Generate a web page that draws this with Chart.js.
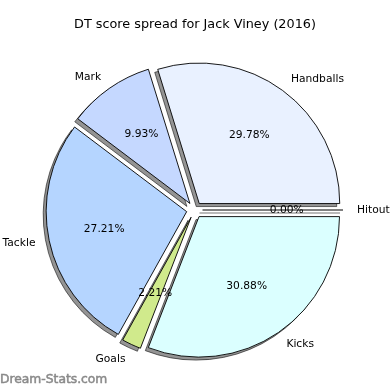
<!DOCTYPE html>
<html lang="en">
<head>
    <meta charset="UTF-8">
    <title>DT score spread for Jack Viney (2016)</title>
    <script src="https://cdn.jsdelivr.net/npm/chart.js"></script>
    <style>
        html, body { margin: 0; padding: 0; background: #ffffff; }
        #wrap { width: 390px; height: 390px; position: relative; }
    </style>
</head>
<body>
    <div id="wrap"><canvas id="pie-chart" width="390" height="390"></canvas></div>
    <script>
        // slices in drawing order (clockwise from 3 o'clock)
        const categories = ['Hitout', 'Kicks', 'Goals', 'Tackle', 'Mark', 'Handballs'];
        const percentages = [0.00, 30.88, 2.21, 27.21, 9.93, 29.78];
        const sliceColors = ['#f2f2f2', '#dbffff', '#d0ea8c', '#b5d5ff', '#c5d8ff', '#e9f1ff'];
        const chartTitle = 'DT score spread for Jack Viney (2016)';
        const watermark = 'Dream-Stats.com';

        const EXPLODE = 8;        // px each slice is pushed out
        const SHADOW_X = -3, SHADOW_Y = 3;
        const FONT = '"DejaVu Sans", sans-serif';

        function sliceShift(arc) {
            const mid = (arc.startAngle + arc.endAngle) / 2;
            return { mid: mid, dx: Math.cos(mid) * EXPLODE, dy: Math.sin(mid) * EXPLODE };
        }

        function tracePath(ctx, arc) {
            ctx.beginPath();
            ctx.moveTo(arc.x, arc.y);
            if (arc.endAngle > arc.startAngle) {
                ctx.arc(arc.x, arc.y, arc.outerRadius, arc.startAngle, arc.endAngle);
                ctx.closePath();
                return true;
            }
            ctx.lineTo(arc.x + Math.cos(arc.startAngle) * arc.outerRadius, arc.y + Math.sin(arc.startAngle) * arc.outerRadius);
            return false;
        }

        const explodedPie = {
            id: 'explodedPie',
            beforeDatasetDraw(chart, args) {
                const ctx = chart.ctx;
                const arcs = args.meta.data;

                // shadows underneath everything
                arcs.forEach(arc => {
                    const s = sliceShift(arc);
                    ctx.save();
                    ctx.translate(s.dx + SHADOW_X, s.dy + SHADOW_Y);
                    if (tracePath(ctx, arc)) {
                        ctx.fillStyle = 'rgba(0,0,0,0.42)';
                        ctx.fill();
                    }
                    ctx.strokeStyle = 'rgba(0,0,0,0.55)';
                    ctx.lineWidth = 1;
                    ctx.stroke();
                    ctx.restore();
                });

                // the wedges themselves
                arcs.forEach(arc => {
                    const s = sliceShift(arc);
                    ctx.save();
                    ctx.translate(s.dx, s.dy);
                    if (arc.endAngle > arc.startAngle) {
                        arc.draw(ctx);
                    } else {
                        tracePath(ctx, arc);
                        ctx.strokeStyle = '#000';
                        ctx.lineWidth = 1;
                        ctx.stroke();
                    }
                    ctx.restore();
                });
                return false;
            },
            afterDraw(chart) {
                const ctx = chart.ctx;
                const arcs = chart.getDatasetMeta(0).data;
                ctx.save();
                ctx.fillStyle = '#000';
                ctx.textBaseline = 'middle';
                ctx.font = '10.7px ' + FONT;
                arcs.forEach((arc, i) => {
                    const s = sliceShift(arc);
                    const cx = Math.cos(s.mid), cy = Math.sin(s.mid);
                    const R = arc.outerRadius;
                    // category label
                    ctx.textAlign = cx >= 0 ? 'left' : 'right';
                    ctx.fillText(categories[i], arc.x + cx * (EXPLODE + 1.1 * R), arc.y + cy * (EXPLODE + 1.1 * R) + (cy > 0.9 ? 2 : 0));
                    // percentage
                    ctx.textAlign = 'center';
                    ctx.fillText(percentages[i].toFixed(2) + '%', arc.x + cx * (EXPLODE + 0.6 * R), arc.y + cy * (EXPLODE + 0.6 * R));
                });

                ctx.font = '12.8px ' + FONT;
                ctx.textAlign = 'center';
                ctx.fillText(chartTitle, 195, 25);

                // watermark
                ctx.font = '12.3px ' + FONT;
                ctx.fillStyle = '#8a8a8a';
                ctx.strokeStyle = '#8a8a8a';
                ctx.lineWidth = 0.5;
                ctx.textAlign = 'left';
                ctx.fillText(watermark, 0, 380);
                ctx.strokeText(watermark, 0, 380);
                ctx.restore();
            }
        };

        const ctx = document.getElementById('pie-chart').getContext('2d');
        new Chart(ctx, {
            type: 'pie',
            data: {
                labels: categories,
                datasets: [{
                    data: percentages,
                    backgroundColor: sliceColors,
                    borderColor: '#000000',
                    borderWidth: 0.9
                }]
            },
            options: {
                responsive: false,
                animation: false,
                events: [],
                rotation: 90,
                radius: 140.5,
                layout: { padding: { top: 40, bottom: 10, left: 0, right: 1 } },
                plugins: {
                    legend: { display: false },
                    title: { display: false },
                    tooltip: { enabled: false }
                }
            },
            plugins: [explodedPie]
        });
    </script>
</body>
</html>
